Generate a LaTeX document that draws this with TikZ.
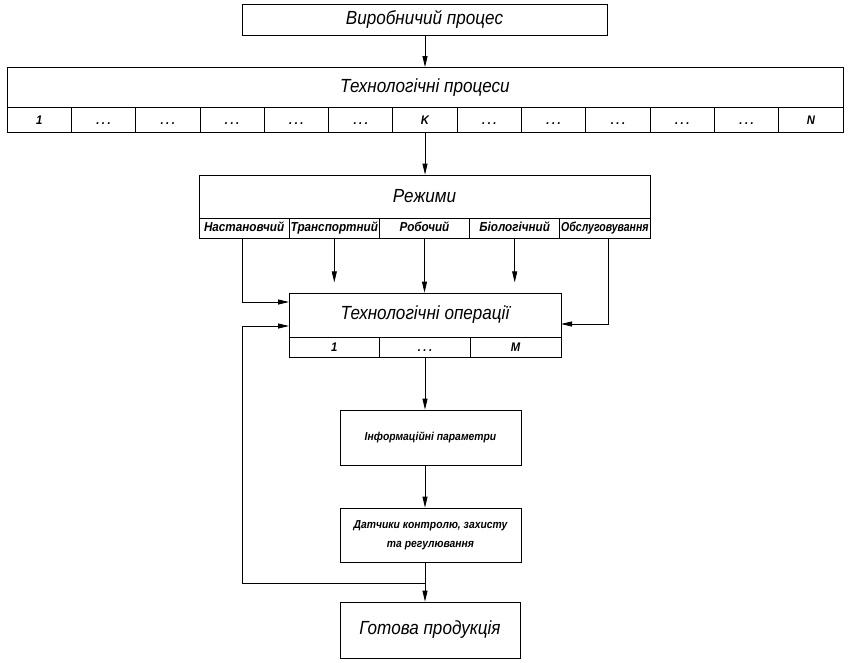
\documentclass[tikz,border=0pt]{standalone}
\usepackage{fontspec}
\usepackage{graphicx}
\newfontfamily\gfont[FakeStretch=0.9]{Liberation Sans}
\usetikzlibrary{arrows.meta,calc}
\newcommand\mydots{.\hspace{2.5pt}.\hspace{2.5pt}.}
\begin{document}
\begin{tikzpicture}[x=1pt,y=-1pt,
  box/.style={draw,line width=0.8pt,rectangle,inner sep=0pt,align=center,font=\gfont\itshape},
  bigtxt/.style={font=\gfont\itshape\fontsize{19}{21}\selectfont},
  midtxt/.style={font=\gfont\itshape\bfseries\fontsize{11.5}{19}\selectfont},
  celltxt/.style={font=\gfont\itshape\bfseries\fontsize{12.5}{13}\selectfont,text height=9pt,text depth=0pt},
  modetxt/.style={font=\gfont\itshape\bfseries\fontsize{13}{13}\selectfont,text height=9pt,text depth=2pt},
  conn/.style={line width=0.8pt,-{Triangle[length=11pt,width=5pt]}},
  plain/.style={line width=0.8pt}]
\useasboundingbox (0,0) rectangle (860,662);
% top
\node[box,bigtxt,minimum width=365,minimum height=31] (vp) at (424.5,19.5) {Виробничий процес};
% technological processes
\node[box,bigtxt,minimum width=836,minimum height=40] (tp) at (425,87.5) {Технологічні процеси};
\foreach \i/\t in {1/1,2/\mydots,3/\mydots,4/\mydots,5/\mydots,6/\mydots,7/K,8/\mydots,9/\mydots,10/\mydots,11/\mydots,12/\mydots,13/N}{
  \node[box,celltxt,minimum width=64.31,minimum height=25] (c\i) at ({7+64.31*(\i-0.5)},120) {\t};
}
% modes
\node[box,bigtxt,minimum width=451,minimum height=43] (md) at (424.5,196.5) {Режими};
\foreach \i/\t in {1/Настановчий,2/Транспортний,3/Робочий,4/Біологічний,5/\scalebox{0.9}[1]{Обслуговування}}{
  \node[box,modetxt,minimum width=90.2,minimum height=20] (m\i) at ({199+90.2*(\i-0.5)},228) {\t};
}
% operations
\node[box,bigtxt,minimum width=272,minimum height=44] (op) at (425,315) {Технологічні операції};
\foreach \i/\t in {1/1,2/\mydots,3/M}{
  \node[box,celltxt,minimum width=90.67,minimum height=20] (o\i) at ({289+90.67*(\i-0.5)},347) {\t};
}
% lower boxes
\node[box,midtxt,minimum width=181,minimum height=55] (ip) at (430.5,437.5) {Інформаційні параметри};
\node[box,midtxt,minimum width=181,minimum height=54] (dk) at (430.5,535) {Датчики контролю, захисту\\та регулювання};
\node[box,bigtxt,minimum width=180,minimum height=56] (gp) at (430,630) {Готова продукція};
% coordinates
\coordinate (inA) at (289,302);
\coordinate (inB) at (289,326);
\coordinate (inC) at (561,324);
\coordinate (tA) at ($(m2.south)+(0,44)$);
\coordinate (tB) at ($(m4.south)+(0,44)$);
\coordinate (fbR) at (425,583);
\coordinate (fbL) at (242,583);
% connectors
\draw[conn] (vp.south -| 425,0) -- (tp.north -| 425,0);
\draw[conn] (c7.south) -- (md.north -| c7.south);
\draw[conn] (m1.south -| 242,0) |- (inA);
\draw[conn] (m2.south) -- (tA);
\draw[conn] (m3.south) -- (op.north -| m3.south);
\draw[conn] (m4.south) -- (tB);
\draw[conn] (m5.south -| 608,0) |- (inC);
\draw[conn] (o2.south) -- (ip.north -| o2.south);
\draw[conn] (ip.south -| o2.south) -- (dk.north -| o2.south);
\draw[conn] (dk.south -| o2.south) -- (gp.north -| o2.south);
\draw[plain] (fbR) -- (fbL);
\draw[conn] (fbL) |- (inB);
\end{tikzpicture}
\end{document}
